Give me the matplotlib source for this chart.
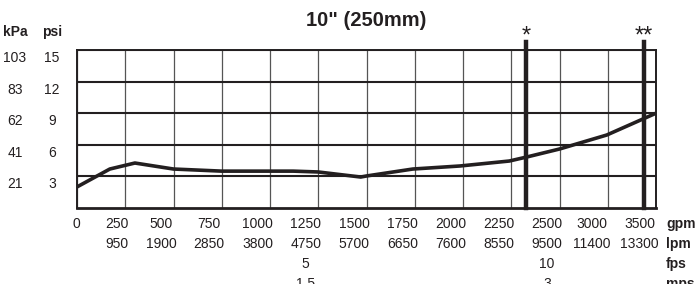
"""Pressure loss curve for a 10 inch (250 mm) valve."""

import matplotlib
matplotlib.use("Agg")
import matplotlib.pyplot as plt
import matplotlib.transforms as mtransforms
import numpy as np

FONT = ["Liberation Sans Narrow", "Liberation Sans", "DejaVu Sans"]
INK = "#231f20"

# axis ticks
gpm_ticks = [0, 250, 500, 750, 1000, 1250, 1500, 1750, 2000, 2250, 2500, 3000, 3500]
lpm_labels = ["", "950", "1900", "2850", "3800", "4750", "5700", "6650",
              "7600", "8550", "9500", "11400", "13300"]
fps_labels = {1250: "5", 2500: "10"}
mps_labels = {1250: "1.5", 2500: "3"}
psi_ticks = [3, 6, 9, 12, 15]
kpa_labels = ["21", "41", "62", "83", "103"]
unit_labels = ["gpm", "lpm", "fps", "mps"]

# pressure drop curve (gpm, psi)
curve_gpm = [0, 170, 300, 500, 750, 1120, 1250, 1470, 1500, 1740, 1985,
             2240, 2330, 2500, 2990, 3500]
curve_psi = [2.0, 3.7, 4.27, 3.7, 3.5, 3.5, 3.42, 2.94, 3.04, 3.7, 3.99,
             4.46, 4.84, 5.6, 6.93, 9.0]

# recommended flow limits
limit_gpm = [2328, 3375]
limit_marks = ["*", "**"]

positions = np.arange(len(gpm_ticks))


def fwd(x):
    return np.interp(x, gpm_ticks, positions)


def inv(u):
    return np.interp(u, positions, gpm_ticks)


fig = plt.figure(figsize=(6.95, 2.84), dpi=100)
ax = fig.add_axes([77 / 695, 76 / 284, 579 / 695, 158 / 284])
ax.set_xscale("function", functions=(fwd, inv))
ax.set_xlim(0, 3500)
ax.set_ylim(0, 15)

ax.set_xticks(gpm_ticks)
ax.set_yticks(psi_ticks)
ax.tick_params(length=0, labelbottom=False, labelleft=False)
ax.grid(axis="x", color="#555555", lw=0.9)
ax.grid(axis="y", color=INK, lw=1.5)
ax.set_axisbelow(True)
for side in ["left", "right", "top"]:
    ax.spines[side].set_linewidth(1.4)
    ax.spines[side].set_color(INK)
ax.spines["bottom"].set_linewidth(2)
ax.spines["bottom"].set_color(INK)

ax.plot(curve_gpm, curve_psi, color=INK, lw=2.6, solid_capstyle="butt",
        zorder=3)

for x, mark in zip(limit_gpm, limit_marks):
    ax.axvline(x, ymin=0, ymax=(208 - 42) / 158, color=INK, lw=3.2,
               clip_on=False, zorder=4)
    ax.text(x, (208 - 43) / 158, mark, transform=ax.get_xaxis_transform(),
            ha="center", va="baseline", fontsize=17, family=FONT, color=INK)

# x tick label columns
LS = 1.55
xoff = mtransforms.ScaledTranslation(3 / 100, -9 / 100, fig.dpi_scale_trans)
for g, lpm in zip(gpm_ticks, lpm_labels):
    lines = [str(g)]
    if lpm:
        lines.append(lpm)
    if g in fps_labels:
        lines += [fps_labels[g], mps_labels[g]]
    ax.text(g, 0, "\n".join(lines), transform=ax.get_xaxis_transform() + xoff,
            ha="right", va="top", multialignment="center", fontsize=10,
            family=FONT, color=INK, linespacing=LS)

unit_tr = mtransforms.blended_transform_factory(fig.transFigure, ax.transAxes) + xoff
ax.text(663 / 695, 0, "\n".join(unit_labels), transform=unit_tr,
        ha="left", va="top", fontsize=10, fontweight="bold", family=FONT,
        color=INK, linespacing=LS)

# y tick labels
yoff = mtransforms.ScaledTranslation(0, -8 / 100, fig.dpi_scale_trans)
ytr = ax.get_yaxis_transform() + yoff
for p, k in zip(psi_ticks, kpa_labels):
    ax.text((52 - 77) / 579, p, str(p), transform=ytr, ha="center",
            va="center", fontsize=10, family=FONT, color=INK)
    ax.text((15 - 77) / 579, p, k, transform=ytr, ha="center",
            va="center", fontsize=10, family=FONT, color=INK)
ax.text((52 - 77) / 579, (208 - 32) / 158, "psi", transform=ax.transAxes,
        ha="center", va="center", fontsize=10, fontweight="bold",
        family=FONT, color=INK)
ax.text((15 - 77) / 579, (208 - 32) / 158, "kPa", transform=ax.transAxes,
        ha="center", va="center", fontsize=10, fontweight="bold",
        family=FONT, color=INK)

ax.text(0.5, (208 - 20) / 158, '10" (250mm)', transform=ax.transAxes,
        ha="center", va="center", fontsize=14.5, fontweight="bold",
        family=FONT, color=INK)

fig.savefig("out.png", dpi=100)
